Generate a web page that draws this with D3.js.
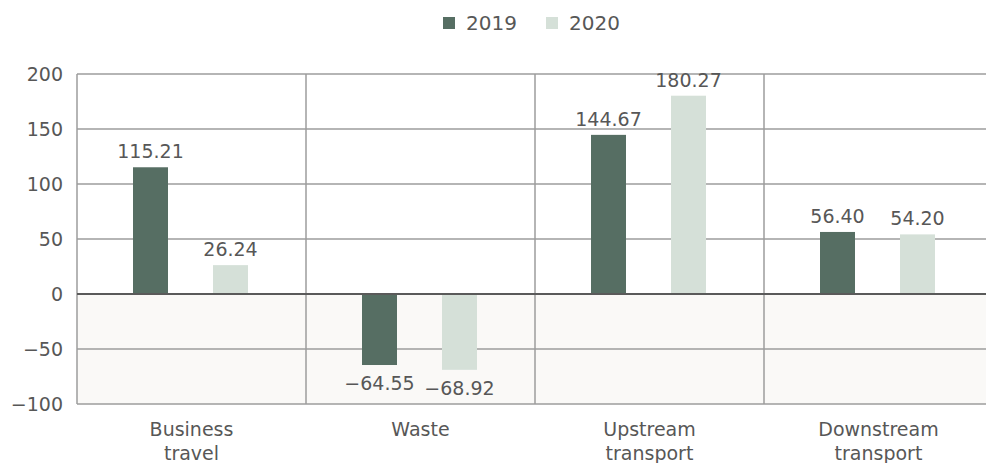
<!DOCTYPE html>
<html>
<head>
<meta charset="utf-8">
<script src="https://cdn.jsdelivr.net/npm/d3@7"></script>
<style>
	body { margin: 0; background: #fff; }
	svg text { font-family: "DejaVu Sans", sans-serif; fill: #575757; }
	.tickLabel { font-size: 19px; }
	.valueLabel { font-size: 19px; }
	.catLabel { font-size: 19px; }
	.legendLabel { font-size: 20px; }
	.grid { stroke: #9c9c9c; stroke-width: 1.5; }
</style>
</head>
<body>
<div id="chart"></div>
<script>
var categories = ["Business travel", "Waste", "Upstream transport", "Downstream transport"];
var years = ["2019", "2020"];
var values2019 = [115.21, -64.55, 144.67, 56.40];
var values2020 = [26.24, -68.92, 180.27, 54.20];
var yTicks = [-100, -50, 0, 50, 100, 150, 200];

var yearColor = d3.scaleOrdinal()
	.domain(years)
	.range(["#566e63", "#d5e0d8"]);

var FMT = d3.format(".2f");

var width = 986,
	height = 463;

var margin = {top: 74, left: 77, bottom: 59};

var svg = d3.select("#chart")
	.append("svg")
	.attr("width", width)
	.attr("height", height);

var xScale = d3.scaleBand()
	.domain(categories)
	.range([margin.left, margin.left + 229 * categories.length]);

var xInner = d3.scaleBand()
	.domain(years)
	.range([56, 171])
	.paddingInner(0.5625);

var yScale = d3.scaleLinear()
	.domain([-100, 200])
	.range([404, margin.top]);

var plotRight = xScale.range()[1];

// shaded area below zero
svg.append("rect")
	.attr("x", margin.left)
	.attr("y", yScale(0))
	.attr("width", plotRight - margin.left)
	.attr("height", yScale(-100) - yScale(0))
	.style("fill", "#faf9f7");

// horizontal gridlines
svg.selectAll(".hgrid")
	.data(yTicks.filter(function(d) { return d !== 0; }))
	.enter()
	.append("line")
	.attr("class", "grid")
	.attr("x1", margin.left)
	.attr("x2", plotRight)
	.attr("y1", function(d) { return yScale(d); })
	.attr("y2", function(d) { return yScale(d); });

// vertical separators between categories
svg.selectAll(".vgrid")
	.data(categories)
	.enter()
	.append("line")
	.attr("class", "grid")
	.attr("x1", function(d) { return xScale(d); })
	.attr("x2", function(d) { return xScale(d); })
	.attr("y1", yScale(200))
	.attr("y2", yScale(-100));

// bars
var series = years.map(function(y, i) {
	var vals = i === 0 ? values2019 : values2020;
	return categories.map(function(c, j) { return {cat: c, year: y, value: vals[j]}; });
});
var barData = d3.merge(series);

svg.selectAll(".bar")
	.data(barData)
	.enter()
	.append("rect")
	.attr("class", "bar")
	.attr("x", function(d) { return xScale(d.cat) + xInner(d.year); })
	.attr("width", xInner.bandwidth())
	.attr("y", function(d) { return yScale(Math.max(0, d.value)); })
	.attr("height", function(d) { return Math.abs(yScale(d.value) - yScale(0)); })
	.style("fill", function(d) { return yearColor(d.year); });

// zero line
svg.append("line")
	.attr("x1", margin.left)
	.attr("x2", plotRight)
	.attr("y1", yScale(0))
	.attr("y2", yScale(0))
	.style("stroke", "#5a5a5a")
	.style("stroke-width", 2);

// value labels
svg.selectAll(".valueLabel")
	.data(barData)
	.enter()
	.append("text")
	.attr("class", "valueLabel")
	.attr("text-anchor", "middle")
	.attr("x", function(d) { return xScale(d.cat) + xInner(d.year) + xInner.bandwidth() / 2; })
	.attr("y", function(d) { return d.value >= 0 ? yScale(d.value) - 9 : yScale(d.value) + 25; })
	.text(function(d) { return FMT(d.value); });

// y tick labels
svg.selectAll(".tickLabel")
	.data(yTicks)
	.enter()
	.append("text")
	.attr("class", "tickLabel")
	.attr("text-anchor", "end")
	.attr("x", margin.left - 14)
	.attr("y", function(d) { return yScale(d) + 7; })
	.text(function(d) { return d3.format("")(d); });

// category labels, wrapped on spaces
svg.selectAll(".catLabel")
	.data(categories)
	.enter()
	.append("text")
	.attr("class", "catLabel")
	.attr("text-anchor", "middle")
	.each(function(d) {
		var words = d.split(" ");
		var t = d3.select(this);
		words.forEach(function(w, i) {
			t.append("tspan")
				.attr("x", xScale(d) + xScale.bandwidth() / 2)
				.attr("y", 436 + i * 23.5)
				.text(w);
		});
	});

// legend
var legend = svg.selectAll(".legendItem")
	.data(years)
	.enter()
	.append("g")
	.attr("class", "legendItem")
	.attr("transform", function(d, i) { return "translate(" + (443 + i * 103) + ",0)"; });

legend.append("rect")
	.attr("x", 0)
	.attr("y", 17)
	.attr("width", 12)
	.attr("height", 12)
	.style("fill", function(d) { return yearColor(d); });

legend.append("text")
	.attr("class", "legendLabel")
	.attr("x", 23)
	.attr("y", 30)
	.text(function(d) { return d; });
</script>
</body>
</html>
